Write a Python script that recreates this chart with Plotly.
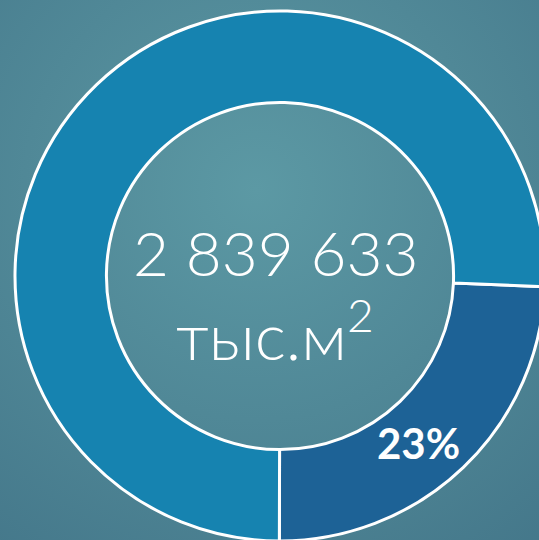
import base64
import plotly.graph_objects as go

# ---- data ----
segment_names = ["Доля", "Остальное"]
segment_values = [24.4, 75.6]          # share of ring
segment_labels = ["23%", ""]
total_value_text = "2 839 633"
total_unit_text = "тыс.м<sup>2</sup>"

W, H = 545, 541            # figure slightly larger than 539x540 window; overflow hidden

# radial-gradient background (decoration)
svg = (
    f'<svg xmlns="http://www.w3.org/2000/svg" width="{W}" height="{H}">'
    '<defs><radialGradient id="g" cx="0.47" cy="0.35" r="0.85">'
    '<stop offset="0" stop-color="#5c99a4"/>'
    '<stop offset="1" stop-color="#44778a"/>'
    '</radialGradient></defs>'
    f'<rect width="{W}" height="{H}" fill="url(#g)"/></svg>'
)
bg_src = "data:image/svg+xml;base64," + base64.b64encode(svg.encode()).decode()

fig = go.Figure(
    go.Pie(
        labels=segment_names,
        values=segment_values,
        textinfo="none",
        hole=0.655,
        sort=False,
        direction="clockwise",
        rotation=92.3,
        marker=dict(colors=["#1d6296", "#1683b0"], line=dict(color="white", width=3)),
        domain=dict(x=[15 / W, 1], y=[0, 1 - 11 / H]),
        showlegend=False,
        hoverinfo="skip",
    )
)

# slice label
fig.add_annotation(
    x=418 / W, y=1 - 443 / H, xref="paper", yref="paper",
    text=segment_labels[0], showarrow=False,
    font=dict(family="Lato", size=42, color="white", weight="bold"),
    xanchor="center", yanchor="middle",
)
# centre texts
fig.add_annotation(
    x=275 / W, y=1 - 252 / H, xref="paper", yref="paper",
    text=total_value_text, showarrow=False,
    font=dict(family="Lato", size=62, color="white", weight=300),
    xanchor="center", yanchor="middle",
)
fig.add_annotation(
    x=275 / W, y=1 - 330 / H, xref="paper", yref="paper",
    text=total_unit_text, showarrow=False,
    font=dict(family="Lato", size=66, color="white", weight=300),
    xanchor="center", yanchor="middle",
)

fig.update_layout(
    width=W, height=H,
    margin=dict(l=0, r=0, t=0, b=0),
    paper_bgcolor="#4f8896",
    images=[dict(source=bg_src, xref="paper", yref="paper", x=0, y=1,
                 sizex=1, sizey=1, xanchor="left", yanchor="top",
                 sizing="stretch", layer="below")],
)

fig.write_html(
    "out.html",
    config={"displayModeBar": False},
    post_script="document.body.style.margin='0';document.body.style.overflow='hidden';"
                "document.documentElement.style.overflow='hidden';",
)
